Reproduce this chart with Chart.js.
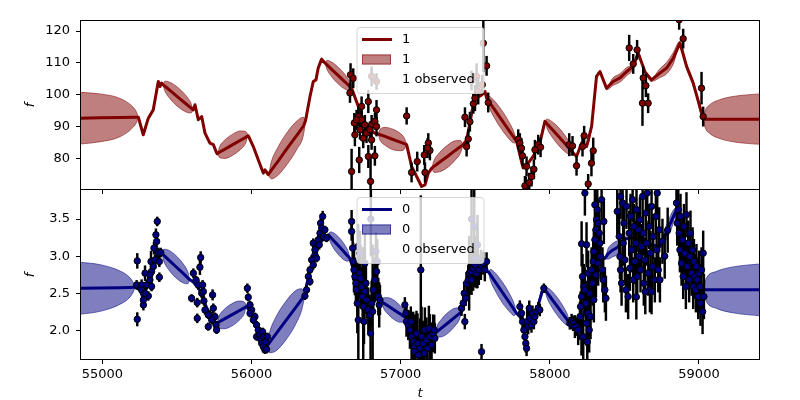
<!DOCTYPE html>
<html>
<head>
<meta charset="utf-8">
<script src="https://cdn.jsdelivr.net/npm/chart.js@4.4.0/dist/chart.umd.min.js"></script>
<style>
    html, body { margin: 0; padding: 0; background: #fff; }
    #wrap { position: relative; width: 800px; height: 400px; }
    #wrap canvas { position: absolute; left: 0; }
    #botChart { top: 180px; }
    #topChart { top: 0; }
</style>
</head>
<body>
<div id="wrap">
    <canvas id="botChart" width="800" height="220"></canvas>
    <canvas id="topChart" width="800" height="200"></canvas>
</div>
<script>
    const xTicks = [55000, 56000, 57000, 58000, 59000];
    const topYTicks = [80, 90, 100, 110, 120];
    const botYTicks = [2.0, 2.5, 3.0, 3.5];

    // model curve rows: [t, f, half width of the band]
    const topModel = [
        [54800, 92.7, 8.3], [54850, 92.7, 8.1], [54984, 92.8, 7.5], [55118, 92.9, 6.0], [55207, 93.0, 3.1],
        [55230, 93.0, 1.5], [55241, 93.0, 0], [55274, 87.5, 0], [55308, 92.7, 0], [55341, 95.3, 0],
        [55375, 104.2, 0], [55386, 102.6, 0], [55397, 103.7, 0], [55404, 103.3, 0],
        [55420, 102.7, 1.6], [55455, 101.3, 2.6], [55506, 99.3, 3.0], [55558, 97.3, 2.6], [55593, 95.9, 1.6],
        [55609, 95.3, 0], [55621, 96.9, 0], [55643, 92.2, 0], [55666, 93.2, 0], [55688, 88.0, 0],
        [55721, 84.9, 0], [55744, 84.4, 0], [55766, 81.8, 0], [55770, 81.6, 0],
        [55787, 82.1, 1.8], [55822, 83.0, 2.9], [55874, 84.4, 3.3], [55926, 85.8, 2.9], [55961, 86.7, 1.8],
        [55978, 87.2, 0], [56012, 83.8, 0], [56045, 79.7, 0], [56079, 75.5, 0], [56090, 76.5, 0], [56112, 75.0, 0],
        [56133, 76.4, 2.7], [56177, 79.2, 4.4], [56241, 83.4, 5.0], [56306, 87.5, 4.4], [56349, 90.3, 2.7],
        [56362, 91.9, 0], [56392, 99.5, 0], [56414, 104.2, 0], [56432, 104.7, 0], [56447, 108.4, 0],
        [56470, 111.2, 0], [56492, 110.0, 0],
        [56506, 109.4, 1.4], [56537, 108.0, 2.3], [56582, 106.0, 2.6], [56626, 104.1, 2.3], [56657, 102.7, 1.4],
        [56671, 102.1, 0], [56716, 96.4, 0], [56749, 92.2, 0], [56794, 89.1, 0], [56828, 88.0, 0], [56847, 87.8, 0],
        [56862, 87.5, 1.7], [56895, 87.0, 2.8], [56944, 86.1, 3.2], [56992, 85.3, 2.8], [57025, 84.7, 1.7],
        [57040, 84.4, 0], [57073, 77.6, 0], [57118, 73.4, 0], [57140, 71.3, 0], [57163, 71.8, 0],
        [57185, 75.5, 0], [57207, 77.0, 0],
        [57224, 77.6, 1.9], [57260, 78.9, 3.0], [57313, 80.7, 3.5], [57366, 82.6, 3.0], [57402, 83.8, 1.9],
        [57419, 84.4, 0], [57442, 85.9, 0], [57464, 91.2, 0], [57486, 96.9, 0], [57509, 99.0, 0],
        [57543, 100.0, 0], [57565, 101.1, 0], [57576, 99.0, 0],
        [57592, 97.9, 1.6], [57626, 95.6, 2.6], [57677, 92.2, 3.0], [57727, 88.8, 2.6], [57761, 86.5, 1.6],
        [57777, 85.4, 0], [57821, 77.1, 0], [57855, 78.6, 0], [57888, 80.7, 0], [57933, 84.9, 0], [57967, 91.7, 0],
        [57982, 90.9, 1.5], [58015, 89.2, 2.4], [58062, 86.8, 2.8], [58110, 84.3, 2.4], [58142, 82.6, 1.5],
        [58157, 81.8, 0], [58179, 80.7, 0], [58213, 84.9, 0], [58246, 83.8, 0], [58280, 90.1, 0],
        [58313, 105.8, 0], [58336, 107.3, 0], [58358, 104.7, 0],
        [58380, 102.1, 0.5], [58425, 104.2, 1.2], [58470, 105.3, 1.3], [58515, 107.3, 1.3], [58559, 108.9, 0.8],
        [58592, 113.1, 0], [58637, 107.3, 0],
        [58681, 104.7, 0.5], [58738, 106.8, 1.4], [58783, 108.4, 1.8], [58828, 111.5, 1.8], [58872, 116.2, 0.6],
        [58917, 108.9, 0.8], [58961, 103.7, 0.8], [59028, 92.6, 0],
        [59040, 92.4, 2.5], [59072, 92.4, 4.5], [59140, 92.4, 6.1], [59229, 92.4, 7.1], [59409, 92.4, 7.9],
        [59460, 92.4, 8.0]
    ];

    // observations: [t, f, error]
    const topObs = [
        [56664, 106.3, 3.5], [56682, 105.2, 3], [56660, 100.6, 3], [56671, 76.0, 7], [56738, 96.4, 3],
        [56783, 97.9, 3.5], [56838, 95.3, 3], [56716, 93.2, 3], [56689, 91.2, 3], [56738, 92.2, 2.5],
        [56760, 90.6, 3], [56805, 90.6, 3], [56827, 91.7, 2.5], [56838, 90.1, 3], [56704, 92.2, 3],
        [56727, 89.1, 3], [56749, 86.4, 3], [56771, 88.0, 3], [56794, 89.1, 2.5], [56805, 85.9, 3],
        [56783, 80.7, 3.5], [56827, 80.9, 3], [56722, 79.6, 4], [56693, 87.5, 3.5], [56798, 72.9, 8],
        [56838, 104.2, 2.5], [56805, 105.8, 3],
        [57040, 93.4, 2.6], [57073, 75.7, 3], [57111, 79.1, 3], [57163, 75.7, 3], [57158, 81.2, 3],
        [57185, 84.9, 3], [57196, 82.6, 3], [57180, 83.3, 3],
        [57431, 93.0, 3], [57453, 86.2, 3], [57442, 83.8, 3], [57464, 91.6, 3], [57487, 97.2, 3],
        [57498, 99.0, 4], [57509, 105.8, 4], [57475, 104.5, 3], [57520, 101.1, 4], [57554, 116.2, 9],
        [57547, 103.2, 3], [57576, 109.1, 3], [57587, 97.6, 3],
        [57788, 86.1, 3], [57799, 84.9, 3], [57817, 80.9, 3], [57844, 77.6, 3], [57840, 71.3, 3],
        [57810, 83.3, 3], [57833, 71.5, 3], [57862, 72.5, 3], [57877, 74.4, 3], [57893, 76.7, 3],
        [57900, 82.8, 3], [57922, 84.4, 3], [57938, 83.6, 3],
        [58130, 84.4, 3.5], [58152, 84.0, 3], [58179, 77.8, 3], [58219, 83.8, 3], [58230, 87.2, 3],
        [58279, 78.6, 4], [58291, 82.5, 4], [58257, 72.1, 3],
        [58532, 114.7, 4], [58559, 109.7, 3], [58585, 114.1, 3], [58626, 105.3, 3.5], [58621, 97.4, 7],
        [58644, 102.9, 3.5], [58659, 97.4, 3],
        [58867, 123.5, 3], [58894, 117.6, 3], [59017, 102.1, 5], [59028, 93.2, 3]
    ];

    const botModel = [
        [54800, 2.567, 0.36], [54850, 2.567, 0.35], [54984, 2.57, 0.315], [55118, 2.575, 0.225], [55185, 2.578, 0.13],
        [55210, 2.58, 0.05], [55219, 2.58, 0], [55252, 2.545, 0], [55274, 2.43, 0], [55297, 2.6, 0],
        [55330, 2.8, 0], [55364, 3.0, 0], [55397, 3.04, 0],
        [55411, 3.013, 0.08], [55444, 2.95, 0.13], [55492, 2.86, 0.15], [55540, 2.77, 0.13], [55573, 2.707, 0.08],
        [55587, 2.68, 0], [55610, 2.65, 0], [55650, 2.55, 0], [55700, 2.3, 0], [55740, 2.15, 0], [55766, 2.094, 0],
        [55782, 2.112, 0.08], [55816, 2.15, 0.13], [55867, 2.207, 0.15], [55917, 2.264, 0.13], [55951, 2.302, 0.08],
        [55967, 2.32, 0], [56000, 2.22, 0], [56040, 2.02, 0], [56070, 1.88, 0], [56101, 1.78, 0],
        [56122, 1.837, 0.14], [56165, 1.954, 0.23], [56230, 2.129, 0.26], [56294, 2.303, 0.23], [56337, 2.42, 0.14],
        [56358, 2.477, 0], [56370, 2.62, 0], [56400, 2.85, 0], [56440, 3.08, 0], [56480, 3.25, 0], [56515, 3.288, 0],
        [56527, 3.262, 0.065], [56551, 3.208, 0.105], [56588, 3.129, 0.12], [56624, 3.049, 0.105], [56648, 2.996, 0.065],
        [56660, 2.97, 0], [56700, 2.7, 0], [56750, 2.5, 0], [56800, 2.45, 0], [56840, 2.42, 0], [56872, 2.386, 0],
        [56885, 2.368, 0.07], [56914, 2.33, 0.11], [56956, 2.274, 0.13], [56998, 2.218, 0.11], [57027, 2.179, 0.07],
        [57040, 2.162, 0], [57080, 1.95, 0], [57120, 1.85, 0], [57180, 1.9, 0], [57230, 1.959, 0],
        [57244, 1.982, 0.075], [57275, 2.032, 0.12], [57320, 2.105, 0.14], [57364, 2.178, 0.12], [57395, 2.228, 0.075],
        [57409, 2.251, 0], [57440, 2.5, 0], [57480, 2.7, 0], [57530, 2.8, 0], [57587, 2.79, 0],
        [57602, 2.746, 0.075], [57635, 2.65, 0.12], [57682, 2.51, 0.14], [57730, 2.37, 0.12], [57762, 2.274, 0.075],
        [57777, 2.23, 0], [57799, 2.184, 0], [57844, 2.004, 0], [57900, 2.184, 0], [57955, 2.567, 0], [57967, 2.545, 0],
        [57980, 2.51, 0.065], [58009, 2.432, 0.105], [58051, 2.32, 0.12], [58092, 2.207, 0.105], [58121, 2.129, 0.065],
        [58134, 2.094, 0], [58179, 2.049, 0], [58223, 2.184, 0], [58313, 2.95, 0], [58346, 2.995, 0], [58369, 2.97, 0],
        [58390, 3.03, 0.07], [58420, 3.08, 0.09], [58455, 3.12, 0.09], [58492, 3.22, 0.04],
        [58550, 3.25, 0], [58620, 3.2, 0], [58690, 3.15, 0], [58738, 3.13, 0],
        [58765, 3.25, 0.08], [58795, 3.38, 0.1], [58825, 3.52, 0.09], [58849, 3.626, 0.03],
        [58880, 3.4, 0], [58920, 3.0, 0], [58970, 2.75, 0], [59028, 2.545, 0],
        [59040, 2.545, 0.1], [59050, 2.545, 0.16], [59118, 2.545, 0.25], [59229, 2.545, 0.31], [59409, 2.545, 0.35],
        [59460, 2.545, 0.36]
    ];

    const botObs = [
        // 55200 - 55400
        [55234, 2.936, 0.1], [55234, 2.148, 0.09], [55230, 2.612, 0.06], [55263, 2.612, 0.07], [55275, 2.342, 0.07],
        [55275, 2.409, 0.06], [55263, 2.545, 0.06], [55286, 2.77, 0.1], [55297, 2.612, 0.06], [55308, 2.463, 0.06],
        [55319, 2.68, 0.07], [55330, 2.792, 0.07], [55330, 2.59, 0.06], [55326, 2.927, 0.14], [55342, 2.86, 0.07],
        [55346, 3.108, 0.08], [55353, 2.95, 0.07], [55359, 3.288, 0.08], [55364, 3.198, 0.08], [55368, 3.468, 0.06],
        [55375, 3.04, 0.07], [55382, 2.927, 0.07], [55391, 3.049, 0.06], [55382, 2.716, 0.06], [55319, 2.747, 0.07],
        [55286, 2.499, 0.06],
        // 55600 - 55770
        [55598, 2.432, 0.05], [55610, 2.77, 0.06], [55628, 2.68, 0.05], [55636, 2.373, 0.06], [55636, 2.161, 0.06],
        [55643, 2.612, 0.06], [55654, 2.851, 0.1], [55659, 2.981, 0.08], [55666, 2.499, 0.06], [55672, 2.612, 0.06],
        [55677, 2.522, 0.06], [55681, 2.396, 0.06], [55688, 2.274, 0.06], [55710, 2.049, 0.05], [55721, 2.207, 0.06],
        [55739, 2.477, 0.07], [55744, 2.297, 0.06], [55755, 2.184, 0.05], [55762, 2.071, 0.05], [55766, 2.004, 0.05],
        [55710, 2.207, 0.05], [55733, 2.139, 0.06],
        // 55970 - 56110
        [55972, 2.567, 0.06], [55978, 2.445, 0.05], [55990, 2.342, 0.05], [56001, 2.274, 0.05], [56023, 2.184, 0.05],
        [56034, 2.071, 0.05], [56045, 2.004, 0.05], [56034, 1.914, 0.05], [56052, 1.936, 0.05], [56061, 1.878, 0.05],
        [56068, 1.824, 0.05], [56079, 1.779, 0.05], [56090, 1.734, 0.05], [56101, 1.743, 0.05], [56074, 1.981, 0.05],
        [56083, 1.914, 0.05], [56097, 1.846, 0.05], [56106, 1.914, 0.05], [56012, 2.139, 0.05], [55990, 2.229, 0.05],
        // 56350 - 56510
        [56358, 2.463, 0.05], [56381, 2.725, 0.06], [56392, 2.815, 0.05], [56403, 2.95, 0.06], [56414, 2.882, 0.06],
        [56414, 3.175, 0.06], [56425, 3.018, 0.05], [56436, 3.13, 0.06], [56448, 3.22, 0.06], [56459, 3.31, 0.06],
        [56463, 3.445, 0.06], [56470, 3.378, 0.05], [56477, 3.536, 0.07], [56481, 3.265, 0.06], [56492, 3.355, 0.05],
        [56503, 3.243, 0.05], [56436, 2.972, 0.05], [56392, 2.657, 0.05], [56369, 2.545, 0.05], [56425, 3.085, 0.06],
        [56454, 3.153, 0.06],
        // 56660 - 56870
        [56671, 3.468, 0.15], [56671, 3.333, 0.12], [56678, 3.108, 0.2], [56682, 2.927, 0.25], [56687, 2.815, 0.3],
        [56693, 2.725, 0.25], [56700, 2.635, 0.3], [56705, 2.545, 0.2], [56709, 2.364, 0.4], [56716, 2.139, 1.0],
        [56722, 2.77, 0.3], [56731, 2.702, 0.4], [56738, 2.59, 0.25], [56745, 2.454, 0.3], [56749, 2.319, 0.8],
        [56754, 2.117, 0.3], [56760, 2.522, 0.3], [56771, 2.409, 0.25], [56783, 2.274, 0.3], [56794, 2.207, 0.25],
        [56798, 1.959, 0.35], [56805, 2.364, 0.3], [56816, 2.545, 0.3], [56827, 2.68, 0.3], [56834, 3.063, 0.25],
        [56838, 2.792, 0.3], [56843, 2.927, 0.3], [56850, 2.454, 0.25], [56856, 2.342, 0.3], [56861, 2.409, 0.2],
        [56812, 2.252, 0.9], [56767, 2.635, 0.3], [56800, 3.5, 0.5], [56715, 3.13, 0.3], [56727, 3.04, 0.3],
        [56760, 2.905, 0.4],
        // 57020 - 57230
        [57028, 2.342, 0.1], [57035, 2.229, 0.15], [57039, 2.117, 0.2], [57051, 2.071, 0.2], [57062, 2.004, 0.25],
        [57073, 1.914, 0.3], [57084, 1.846, 0.4], [57091, 1.779, 0.3], [57095, 1.711, 0.5], [57106, 1.959, 0.3],
        [57113, 1.824, 0.4], [57118, 1.666, 0.3], [57129, 1.756, 0.4], [57135, 2.815, 1.0], [57140, 1.914, 0.4],
        [57151, 1.824, 0.3], [57158, 1.689, 0.4], [57162, 2.004, 0.3], [57173, 1.869, 0.3], [57180, 1.756, 0.3],
        [57189, 2.026, 0.3], [57196, 1.914, 0.3], [57207, 1.801, 0.3], [57218, 1.959, 0.25], [57225, 2.004, 0.2],
        [57229, 1.891, 0.2], [57068, 2.117, 0.2],
        // 57400 - 57580
        [57408, 2.297, 0.1], [57419, 2.364, 0.1], [57426, 2.499, 0.15], [57435, 2.432, 0.1], [57441, 2.63, 0.15],
        [57453, 2.68, 0.2], [57459, 2.77, 0.5], [57471, 2.792, 0.3], [57475, 2.68, 0.2], [57486, 2.837, 0.3],
        [57497, 2.882, 0.3], [57509, 2.77, 0.2], [57515, 2.972, 0.4], [57524, 2.815, 0.2], [57538, 2.882, 0.2],
        [57553, 2.905, 0.15], [57564, 2.815, 0.15], [57576, 2.927, 0.12], [57430, 2.117, 0.1], [57542, 1.711, 0.1],
        [57475, 3.5, 0.6], [57493, 3.4, 0.5], [57515, 3.15, 0.4], [57497, 2.97, 0.3],
        // 57790 - 57960
        [57799, 2.319, 0.08], [57810, 2.229, 0.08], [57817, 2.117, 0.1], [57826, 2.004, 0.1], [57833, 1.914, 0.1],
        [57839, 1.824, 0.12], [57844, 1.756, 0.1], [57848, 2.117, 0.15], [57855, 2.049, 0.1], [57862, 2.297, 0.1],
        [57866, 2.161, 0.1], [57877, 2.071, 0.1], [57884, 2.229, 0.1], [57893, 2.117, 0.1], [57900, 2.184, 0.08],
        [57911, 2.252, 0.08], [57922, 2.297, 0.08], [57933, 2.274, 0.08], [57960, 2.567, 0.06],
        // 58130 - 58380
        [58134, 2.094, 0.08], [58146, 2.117, 0.1], [58156, 2.094, 0.1], [58168, 2.049, 0.15], [58179, 2.049, 0.12],
        [58190, 2.004, 0.2], [58202, 2.184, 0.2], [58206, 2.319, 0.2], [58212, 1.914, 0.25], [58213, 2.454, 0.25],
        [58219, 2.725, 0.3], [58213, 3.166, 0.3], [58224, 1.914, 0.3], [58228, 2.59, 0.3], [58235, 2.545, 0.3],
        [58242, 2.364, 0.3], [58246, 3.153, 0.3], [58246, 2.094, 0.3], [58251, 1.846, 0.3], [58257, 2.229, 0.3],
        [58257, 2.77, 0.3], [58264, 2.004, 0.3], [58268, 2.499, 0.3], [58235, 3.851, 0.3], [58273, 2.184, 0.3],
        [58280, 2.815, 0.3], [58286, 2.635, 0.3], [58291, 2.927, 0.3], [58295, 3.063, 0.3], [58302, 3.22, 0.3],
        [58309, 3.355, 0.3], [58313, 3.49, 0.3], [58302, 3.693, 0.3], [58318, 3.626, 0.3], [58324, 3.445, 0.3],
        [58331, 3.31, 0.3], [58336, 3.175, 0.3], [58340, 2.995, 0.3], [58347, 3.761, 0.3], [58353, 2.815, 0.3],
        [58358, 2.68, 0.3], [58362, 3.468, 0.3], [58369, 2.545, 0.3], [58376, 2.432, 0.3], [58324, 2.905, 0.3],
        [58309, 2.747, 0.3], [58295, 2.41, 0.3],
        // 58450 - 58800
        [58452, 3.603, 0.3], [58465, 3.265, 0.3], [58470, 2.995, 0.3], [58474, 2.815, 0.3], [58481, 2.635, 0.3],
        [58488, 3.716, 0.3], [58492, 3.175, 0.3], [58497, 3.445, 0.3], [58503, 2.95, 0.3], [58510, 2.545, 0.3],
        [58514, 3.671, 0.3], [58525, 2.454, 0.3], [58532, 3.31, 0.3], [58537, 2.837, 0.3], [58541, 3.536, 0.3],
        [58548, 3.085, 0.3], [58555, 3.761, 0.3], [58559, 2.68, 0.3], [58563, 3.4, 0.3], [58570, 2.927, 0.3],
        [58577, 3.175, 0.3], [58581, 3.626, 0.3], [58586, 2.725, 0.3], [58593, 3.355, 0.3], [58599, 2.995, 0.3],
        [58604, 3.49, 0.3], [58474, 3.806, 0.3], [58608, 2.815, 0.3], [58615, 3.13, 0.3], [58622, 3.806, 0.3],
        [58626, 3.31, 0.3], [58630, 2.635, 0.3], [58637, 2.95, 0.3], [58644, 3.581, 0.3], [58648, 3.175, 0.3],
        [58653, 3.851, 0.3], [58660, 2.77, 0.3], [58666, 3.4, 0.3], [58671, 2.545, 0.3], [58675, 3.04, 0.3],
        [58682, 3.671, 0.3], [58689, 2.86, 0.3], [58693, 3.265, 0.3], [58704, 2.68, 0.3], [58711, 3.536, 0.3],
        [58716, 3.085, 0.3], [58720, 3.851, 0.3], [58727, 2.815, 0.3], [58733, 3.355, 0.3], [58738, 2.68, 0.3],
        [58580, 2.45, 0.3], [58640, 2.52, 0.3], [58682, 2.52, 0.3], [58755, 3.2, 0.3], [58770, 3.0, 0.3],
        [58790, 3.35, 0.3],
        // 58840 - 59040
        [58849, 3.716, 0.3], [58861, 3.626, 0.3], [58854, 3.445, 0.3], [58867, 3.31, 0.3], [58872, 3.085, 0.3],
        [58876, 3.536, 0.3], [58883, 2.905, 0.3], [58890, 3.22, 0.3], [58894, 2.725, 0.3], [58899, 3.4, 0.3],
        [58905, 3.04, 0.3], [58912, 2.59, 0.3], [58916, 3.558, 0.3], [58921, 2.86, 0.3], [58928, 3.175, 0.3],
        [58934, 2.68, 0.3], [58939, 2.995, 0.3], [58943, 3.31, 0.3], [58950, 2.77, 0.3], [58957, 3.085, 0.3],
        [58961, 2.59, 0.3], [58966, 2.927, 0.3], [58972, 2.725, 0.3], [58979, 2.545, 0.3], [58983, 2.86, 0.3],
        [58988, 2.68, 0.3], [58995, 2.454, 0.3], [59001, 2.77, 0.3], [59006, 2.59, 0.3], [59010, 2.364, 0.3],
        [59017, 2.815, 0.3], [59024, 2.252, 0.3], [59028, 3.04, 0.3], [59033, 2.454, 0.3]
    ];

    const FONT = '"DejaVu Sans", sans-serif';

    // black box around the plotting area, like the matplotlib spines
    const frame = {
        id: 'frame',
        afterDatasetsDraw(chart, args, o) {
            const a = chart.chartArea, ctx = chart.ctx;
            const top = Math.round(a.top) + 0.5 - (o.shiftTop || 0);
            const bottom = Math.round(a.bottom) - 0.5;
            ctx.save();
            ctx.strokeStyle = '#000';
            ctx.lineWidth = 1;
            ctx.strokeRect(Math.round(a.left) + 0.5, top, Math.round(a.right - a.left) - 1, bottom - top);
            ctx.restore();
        }
    };

    // semi transparent legend box in the middle of the panel
    const boxLegend = {
        id: 'boxLegend',
        afterDraw(chart, args, o) {
            const ctx = chart.ctx, a = chart.chartArea;
            const x = a.left + 277, y = a.top + 7.5, w = 127, h = 66, r = 3;
            ctx.save();
            ctx.beginPath();
            ctx.moveTo(x + r, y);
            ctx.arcTo(x + w, y, x + w, y + h, r);
            ctx.arcTo(x + w, y + h, x, y + h, r);
            ctx.arcTo(x, y + h, x, y, r);
            ctx.arcTo(x, y, x + w, y, r);
            ctx.closePath();
            ctx.fillStyle = 'rgba(255,255,255,0.8)';
            ctx.fill();
            ctx.strokeStyle = 'rgba(204,204,204,0.8)';
            ctx.lineWidth = 1;
            ctx.stroke();

            ctx.strokeStyle = o.color;
            ctx.lineWidth = 3;
            ctx.beginPath();
            ctx.moveTo(x + 5, y + 12);
            ctx.lineTo(x + 35, y + 12);
            ctx.stroke();

            ctx.fillStyle = o.band;
            ctx.fillRect(x + 5, y + 27, 29, 10);
            ctx.strokeStyle = o.edge;
            ctx.lineWidth = 1;
            ctx.strokeRect(x + 5.5, y + 27.5, 28, 9);

            ctx.fillStyle = '#000';
            ctx.font = '13px ' + FONT;
            ctx.textBaseline = 'middle';
            const rows = [12, 32, 52.5];
            o.labels.forEach((t, i) => ctx.fillText(t, x + 45, y + rows[i]));
            ctx.restore();
        }
    };

    function makePanel(canvasId, p) {
        const line = p.model.map(r => ({ x: r[0], y: r[1] }));
        const hi = p.model.map(r => ({ x: r[0], y: r[1] + r[2] }));
        const lo = p.model.map(r => ({ x: r[0], y: r[1] - r[2] }));
        const bars = p.obs.map(r => ({ x: r[0], y: [r[1] - r[2], r[1] + r[2]] }));
        const pts = p.obs.map(r => ({ x: r[0], y: r[1] }));

        return new Chart(document.getElementById(canvasId), {
            type: 'scatter',
            data: {
                datasets: [
                    { type: 'line', data: lo, borderColor: p.edge, borderWidth: 1, pointRadius: 0,
                      fill: false, cubicInterpolationMode: 'monotone', order: 4, clip: 0 },
                    { type: 'line', data: hi, borderColor: p.edge, borderWidth: 1, pointRadius: 0,
                      fill: '-1', backgroundColor: p.band, cubicInterpolationMode: 'monotone', order: 3, clip: 0 },
                    { type: 'line', data: line, borderColor: p.color, borderWidth: 3, pointRadius: 0,
                      tension: 0, borderJoinStyle: 'round', fill: false, order: 2, clip: 0 },
                    { type: 'bar', data: bars, backgroundColor: '#000', borderWidth: 0,
                      barThickness: 1.8, order: 1, clip: 0 },
                    { type: 'scatter', data: pts, pointRadius: 3.2, pointBorderWidth: 1,
                      pointBorderColor: '#000', pointBackgroundColor: p.color, order: 0, clip: 0 }
                ]
            },
            options: {
                responsive: false,
                animation: false,
                devicePixelRatio: 1,
                events: [],
                layout: { padding: { left: 0, right: 40, top: p.padTop, bottom: 0 } },
                scales: {
                    x: {
                        type: 'linear',
                        min: 54850,
                        max: 59409,
                        offset: false,
                        afterBuildTicks: s => { s.ticks = xTicks.map(v => ({ value: v })); },
                        afterFit: s => { s.height = p.xHeight; s.paddingLeft = 0; s.paddingRight = 0; },
                        border: { display: false },
                        grid: { drawOnChartArea: false, tickLength: 4, tickColor: '#000', offset: false },
                        ticks: {
                            display: p.xLabels, color: '#000', padding: 3, maxRotation: 0, autoSkip: false,
                            font: { family: FONT, size: 13 },
                            callback: v => String(v)
                        },
                        title: {
                            display: p.xLabels, text: 't', color: '#000', padding: 0,
                            font: { family: FONT, size: 13, style: 'italic', lineHeight: 1 }
                        }
                    },
                    y: {
                        min: p.yMin,
                        max: p.yMax,
                        afterBuildTicks: s => { s.ticks = p.yTicks.map(v => ({ value: v })); },
                        afterFit: s => { s.width = 80; s.paddingTop = 0; s.paddingBottom = 0; },
                        border: { display: false },
                        grid: { drawOnChartArea: false, tickLength: 4, tickColor: '#000' },
                        ticks: {
                            color: '#000', padding: 6,
                            font: { family: FONT, size: 13 },
                            callback: p.yFormat
                        },
                        title: {
                            display: true, text: 'f', color: '#000', padding: { top: 23, bottom: 0 },
                            font: { family: FONT, size: 13, style: 'italic' }
                        }
                    }
                },
                plugins: {
                    legend: { display: false },
                    tooltip: { enabled: false },
                    frame: { shiftTop: p.shiftTop },
                    boxLegend: { labels: p.labels, color: p.color, band: p.band, edge: p.edge }
                }
            },
            plugins: [frame, boxLegend]
        });
    }

    makePanel('botChart', {
        model: botModel, obs: botObs,
        color: '#000080', band: 'rgba(0,0,128,0.5)', edge: 'rgba(0,0,128,0.55)',
        yMin: 1.599, yMax: 3.892, yTicks: botYTicks, yFormat: v => v.toFixed(1),
        padTop: 10, xHeight: 40, xLabels: true, shiftTop: 1,
        labels: ['0', '0', '0 observed']
    });

    makePanel('topChart', {
        model: topModel, obs: topObs,
        color: '#800000', band: 'rgba(128,0,0,0.5)', edge: 'rgba(128,0,0,0.55)',
        yMin: 70.2, yMax: 123.45, yTicks: topYTicks, yFormat: v => String(v),
        padTop: 20, xHeight: 10, xLabels: false, shiftTop: 0,
        labels: ['1', '1', '1 observed']
    });
</script>
</body>
</html>
